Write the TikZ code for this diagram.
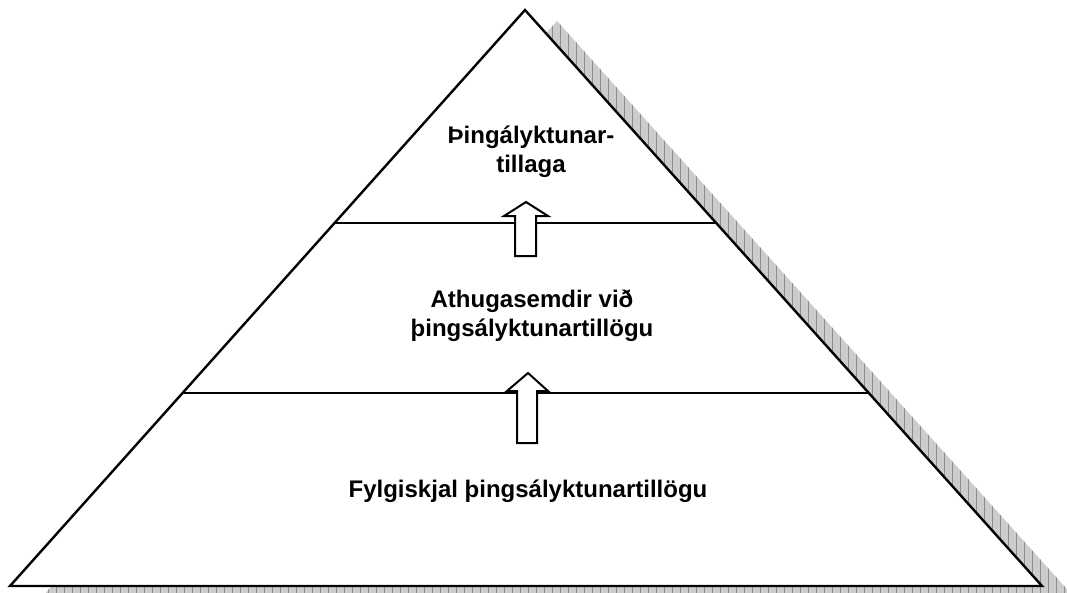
\documentclass[tikz,border=0pt]{standalone}
\usepackage{fontspec}
\setmainfont{Liberation Sans}
\usetikzlibrary{calc}
\begin{document}
\begin{tikzpicture}[x=1pt,y=-1pt,
  edge/.style={draw=black, line width=2.4pt, line join=miter},
  level/.style={draw=black, line width=2pt},
  uparrow/.style={draw=black, fill=white, line width=2pt, line join=miter},
  lbl/.style={font=\bfseries\fontsize{24}{29}\selectfont, align=center, inner sep=0pt},
  shadowfill/.style={fill=black!20},
  shadowgrid/.style={draw=black!45, line width=0.5pt}]
\useasboundingbox (0,0) rectangle (1067,592);
\clip (0,0) rectangle (1067,592);
\coordinate (A) at (525,10);
\coordinate (L) at (10,586);
\coordinate (R) at (1042,586);
% shadow
\begin{scope}[shift={(32,11)}]
  \path[shadowfill] (525,10) -- (10,586) -- (1042,586) -- cycle;
  \clip (525,10) -- (10,586) -- (1042,586) -- cycle;
  \draw[shadowgrid, step=8] (0,0) grid (1100,620);
\end{scope}
% pyramid
\draw[edge, fill=white] (A) -- (L) -- (R) -- cycle;
\coordinate (u1) at ($(L)!0.6302!(A)$);
\coordinate (u2) at ($(R)!0.6302!(A)$);
\coordinate (d1) at ($(L)!0.3351!(A)$);
\coordinate (d2) at ($(R)!0.3351!(A)$);
\draw[level] (u1) -- (u2);
\draw[level] (d1) -- (d2);
% block arrows
\draw[uparrow] (515,256) -- (515,216) -- (504,216) -- (526,202) -- (548,216) -- (536,216) -- (536,256) -- cycle;
\draw[uparrow] (517,443) -- (517,391) -- (507,391) -- (528,373) -- (548,391) -- (537,391) -- (537,443) -- cycle;
% labels
\node[lbl] (t1) at (531,152) {Þingályktunar-\\tillaga};
\node[lbl] (t2) at (532,316) {Athugasemdir við\\þingsályktunartillögu};
\node[lbl, anchor=base] (t3) at (528,497) {Fylgiskjal þingsályktunartillögu};
\end{tikzpicture}
\end{document}
